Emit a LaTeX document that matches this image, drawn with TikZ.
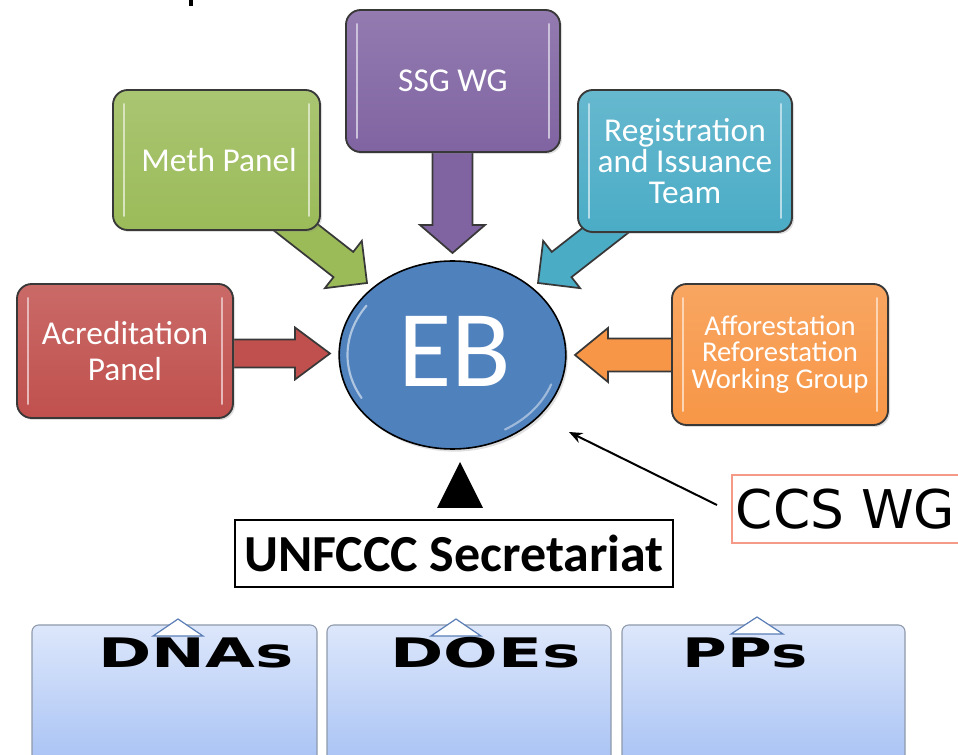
\documentclass[tikz,border=0pt]{standalone}
\usepackage{fontspec}
\setmainfont{Carlito}
\newfontfamily\dejavu{DejaVu Sans}
\usetikzlibrary{shapes.geometric,calc,shadows,arrows.meta}
\definecolor{purp}{HTML}{8064A2}
\definecolor{grn}{HTML}{9BBB59}
\definecolor{blu}{HTML}{4BACC6}
\definecolor{redd}{HTML}{C0504D}
\definecolor{org}{HTML}{F79646}
\definecolor{ebblue}{HTML}{4F81BD}
\definecolor{boxline}{HTML}{383838}
\definecolor{bbtop}{HTML}{DDE7FB}
\definecolor{bbbot}{HTML}{A6C1F4}
\definecolor{bbline}{HTML}{8E99AA}
\definecolor{triblue}{HTML}{5A7EB5}
\definecolor{salmon}{HTML}{F59A86}
\tikzset{
  cbox/.style={draw=boxline, line width=1.4pt, rounded corners=11pt, text=white,
    align=center, inner sep=0pt, top color=#1!85!white, bottom color=#1,
    drop shadow={shadow xshift=1.5pt, shadow yshift=-1.5pt, opacity=0.25}},
  barrow/.style={draw=boxline, line width=1.3pt, line join=miter, fill=#1},
  bbox/.style={draw=bbline, line width=0.8pt, rounded corners=5pt,
    top color=bbtop, bottom color=bbbot, inner sep=0pt},
  tri/.style={draw=triblue, line width=0.9pt, fill=white, line join=miter},
  boxfont/.style={font=\fontsize{25}{27}\selectfont},
  bottext/.style={anchor=base, font=\dejavu\bfseries\fontsize{30.5}{31}\selectfont, text=black}
}
% tip x, tip y, angle, length, head length, head half width, shaft half width, colour
\newcommand{\blockarr}[8]{%
  \begin{scope}[shift={(#1,#2)},rotate=#3]
    \draw[barrow=#8] (0,0) -- (-#5,#6) -- (-#5,#7) -- (-#4,#7) -- (-#4,-#7)
      -- (-#5,-#7) -- (-#5,-#6) -- cycle;
  \end{scope}}
\newcommand{\hlines}[2]{%
  \draw[line width=1.7pt, #2!40!white, line cap=round]
    ($(#1.north west)+(12,15)$) -- ($(#1.south west)+(12,-15)$);
  \draw[line width=1.7pt, #2!40!white, line cap=round]
    ($(#1.north east)+(-12,15)$) -- ($(#1.south east)+(-12,-15)$);}
\begin{document}
\begin{tikzpicture}[x=0.75pt,y=-0.75pt]
\useasboundingbox (0,0) rectangle (958,755);
\clip (0,0) rectangle (958,755);

% fragment of cut text at top
\fill (188.5,0) rectangle (192.5,6);

% block arrows (drawn first, their tails hidden by the boxes)
\blockarr{452.5}{253}{-90}{120}{28}{32.5}{20}{purp}
\blockarr{367}{283}{-38}{130}{30}{30}{16}{grn}
\blockarr{538}{283}{-142}{130}{30}{30}{16}{blu}
\blockarr{330}{353.5}{0}{130}{35}{26}{14}{redd}
\blockarr{575}{355}{180}{130}{33}{27}{16.5}{org}

% coloured boxes
\node[cbox=purp, boxfont, minimum width=160.5pt, minimum height=106.5pt] (ssg) at (453,81) {SSG WG};
\node[cbox=grn, boxfont, minimum width=155.25pt, minimum height=105pt] (meth) at (216.5,160) {\hspace*{4pt}Meth Panel};
\node[cbox=blu, font=\fontsize{25}{23.2}\selectfont, minimum width=160.5pt, minimum height=106.5pt] (reg) at (685,161) {Registration\\and Issuance\\Team};
\node[cbox=redd, boxfont, minimum width=162pt, minimum height=100.5pt] (acr) at (125,351) {Acreditation\\Panel};
\node[cbox=org, font=\fontsize{21.5}{19.9}\selectfont, minimum width=162pt, minimum height=105.75pt] (aff) at (780,354.5) {Afforestation\\Reforestation\\Working Group};
\hlines{ssg}{purp}
\hlines{meth}{grn}
\hlines{reg}{blu}
\hlines{acr}{redd}
\hlines{aff}{org}

% EB ellipse
\node[ellipse, draw=black, line width=1.2pt, fill=ebblue, minimum width=170pt,
  minimum height=141pt, inner sep=0pt,
  drop shadow={shadow xshift=1.5pt, shadow yshift=-2pt, opacity=0.25}] (eb) at (452.5,355) {};
\draw[white, opacity=0.55, line width=1.6pt, line cap=round]
  (eb.center) ++(150:105 and 86) arc[start angle=150, end angle=215, x radius=105, y radius=86];
\draw[white, opacity=0.45, line width=1.6pt, line cap=round]
  (eb.center) ++(20:105 and 86) arc[start angle=20, end angle=60, x radius=105, y radius=86];
\node[text=white, font=\fontsize{82}{82}\selectfont, inner sep=0pt] (ebtxt) at (455,351) {EB};

% UNFCCC secretariat
\fill (460,462) -- (483,508) -- (437,508) -- cycle;
\node[draw=black, line width=1.5pt, minimum width=328.5pt, minimum height=50.25pt,
  inner sep=0pt, font=\bfseries\fontsize{39}{40}\selectfont] (unf) at (454,553.5) {UNFCCC Secretariat};

% CCS WG
\node[draw=salmon, line width=1.6pt, minimum width=170.25pt, minimum height=51pt,
  inner sep=0pt, font=\dejavu\fontsize{40}{42}\selectfont] (ccs) at (845.5,509) {CCS WG};
\coordinate (ccsstart) at (717,505);
\coordinate (ccstip) at (569,432);
\draw[line width=1.5pt, -{Stealth[length=10pt, width=8pt]}] (ccsstart) -- (ccstip);

% bottom boxes
\node[bbox, minimum width=213.75pt, minimum height=108.75pt] (dnabox) at (174.5,697.5) {};
\node[bbox, minimum width=213pt, minimum height=108.75pt] (doebox) at (469,697.5) {};
\node[bbox, minimum width=212.25pt, minimum height=108.75pt] (ppbox) at (763.5,697.5) {};
\draw[tri] (178,619) -- (203,636) -- (153,636) -- cycle;
\draw[tri] (456,619) -- (481,636) -- (431,636) -- cycle;
\draw[tri] (757,617) -- (783,634) -- (731,634) -- cycle;
\node[bottext] (dna) at (196,668) {\scalebox{1.58}[1]{DNAs}};
\node[bottext] (doe) at (485.5,668) {\scalebox{1.58}[1]{DOEs}};
\node[bottext] (pp) at (745,668) {\scalebox{1.5}[1]{PPs}};
\end{tikzpicture}
\end{document}
